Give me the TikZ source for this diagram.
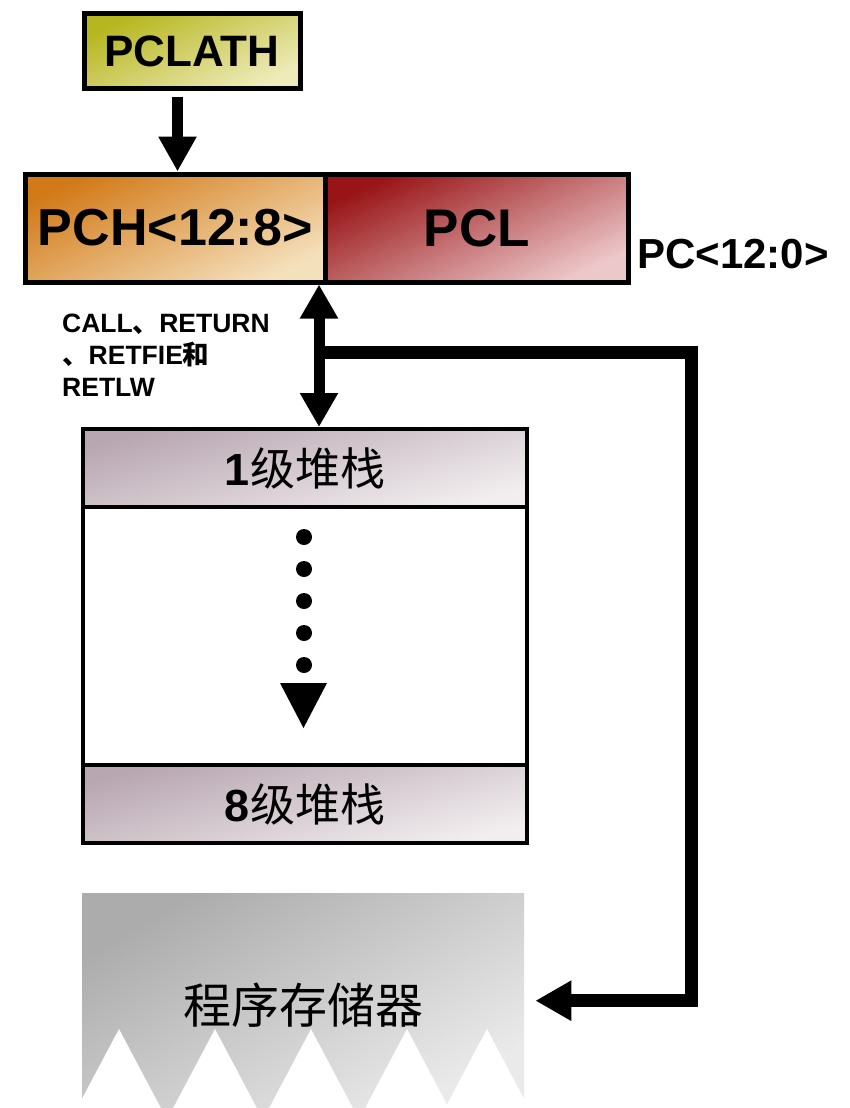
\documentclass[tikz,border=0pt]{standalone}
\usepackage{fontspec}
\setmainfont{Liberation Sans}
\newfontfamily\cjk{Noto Sans CJK SC}
\usetikzlibrary{arrows.meta}
\definecolor{olivetop}{HTML}{B6B61E}
\definecolor{olivebot}{HTML}{EEEBBA}
\definecolor{pchtop}{HTML}{D27A18}
\definecolor{pchbot}{HTML}{F5E0BC}
\definecolor{pcltop}{HTML}{981416}
\definecolor{pclbot}{HTML}{EDC8CA}
\definecolor{celltop}{HTML}{B8A6B0}
\definecolor{cellbot}{HTML}{F2EEF0}
\definecolor{memtop}{HTML}{ACACAC}
\definecolor{membot}{HTML}{EAEAEA}
\begin{document}
\begin{tikzpicture}[x=1pt,y=-1pt,
  grad/.style n args={3}{top color=#1,bottom color=#2,shading angle=#3},
  reg/.style={draw=black,line width=5pt,inner sep=0pt,anchor=north west},
  cellbox/.style={draw=black,line width=4pt,inner sep=0pt,anchor=north west,
    minimum width=444pt,minimum height=78pt,font=\fontsize{45}{50}\selectfont},
  bigarrow/.style={line width=11pt,-{Triangle[width=36pt,length=35pt]}},
  loopline/.style={line width=13pt,line join=miter,-{Triangle[width=38pt,length=36pt]}},
  dot/.style={circle,fill=black,inner sep=0pt,minimum size=16pt},
]
\useasboundingbox[fill=white] (0,0) rectangle (850,1108);

% PCLATH register
\node[reg,grad={olivetop}{olivebot}{25},minimum width=216pt,minimum height=74pt,
  font=\bfseries\fontsize{44}{48}\selectfont] (pclath) at (81.5,11.5) {PCLATH};

% program counter: high and low bytes
\node[reg,grad={pchtop}{pchbot}{25},minimum width=300.5pt,minimum height=108pt,
  font=\bfseries\fontsize{52}{58}\selectfont] (pch) at (22.5,171.5) {PCH<12:8>};
\node[reg,grad={pcltop}{pclbot}{25},minimum width=302.5pt,minimum height=108pt,
  font=\bfseries\fontsize{53}{58}\selectfont] (pcl) at (323,171.5) {PCL};
\node[anchor=base west,inner sep=0pt,font=\bfseries\fontsize{42}{46}\selectfont]
  (pcname) at (637,268) {PC<12:0>};

% instruction label
\node[anchor=north west,inner sep=0pt,align=left,
  font=\bfseries\fontsize{26.5}{32}\selectfont] (instr) at (62,314)
  {CALL{\cjk 、}RETURN\\{\cjk 、}RETFIE{\cjk 和}\\RETLW};

% eight-level hardware stack
\node[draw=black,line width=4pt,inner sep=0pt,anchor=north west,fill=white,
  minimum width=444pt,minimum height=414pt] (stack) at (81,427) {};
\node[cellbox,grad={celltop}{cellbot}{15}] (lvl1) at (81,427)
  {\textbf{1}{\cjk 级堆栈}};
\node[cellbox,grad={celltop}{cellbot}{15}] (lvl8) at (81,763)
  {\textbf{8}{\cjk 级堆栈}};
\foreach \yy [count=\i] in {537,569,601,633,665}
  \node[dot] (d\i) at (304,\yy) {};
\fill (280,683) -- (327,683) -- (303.5,728) -- cycle;

% program memory with jagged lower edge
\node[anchor=north west,inner sep=0pt,grad={memtop}{membot}{30},
  minimum width=442pt,minimum height=215pt] (mem) at (82,893) {};
\foreach \ax in {119,215,311,407,487}
  \fill[white] (\ax,1029) -- (\ax-44,1112) -- (\ax+44,1112) -- cycle;
\node[font=\cjk\fontsize{48}{52}\selectfont] (memtext) at (303,1005) {程序存储器};

% connectors
\coordinate (a1) at ([xshift=-14.5pt]pclath.south);
\draw[bigarrow,shorten <=6pt] (a1) -- (a1 |- pch.north);

\coordinate (b1) at (319,0);
\draw[line width=11pt,{Triangle[width=36pt,length=34pt]}-{Triangle[width=36pt,length=34pt]}]
  (b1 |- pch.south) -- (b1 |- stack.north);

\coordinate (jn) at (319,352);
\coordinate (rt) at (691,0);
\coordinate (tip) at ([xshift=11pt]mem.east);
\draw[loopline] (jn) -- (jn -| rt) -- (rt |- tip) -- (tip);
\end{tikzpicture}
\end{document}
